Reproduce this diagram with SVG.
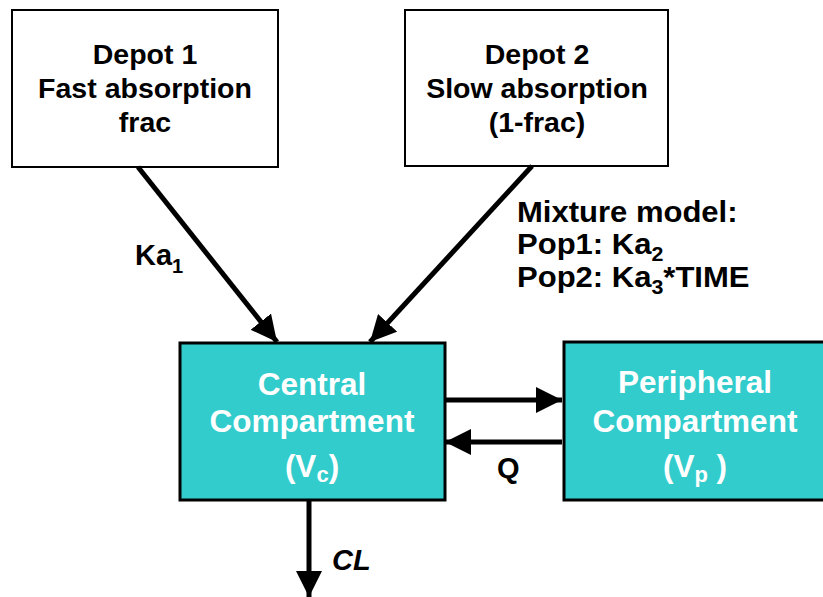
<svg xmlns="http://www.w3.org/2000/svg" width="823" height="597" viewBox="0 0 823 597">
<style>
text{font-family:"Liberation Sans",Arial,sans-serif;font-weight:bold;}
.dep{fill:#fff;stroke:#000;stroke-width:2;}
.cmp{fill:#33CCCC;stroke:#000;stroke-width:3;}
.blk{fill:#000;font-size:28.5px;}
.wht{fill:#fff;font-size:31.5px;}
.lbl{fill:#000;font-size:29px;}
.con{stroke:#000;stroke-width:5;fill:none;}
</style>
<defs>
<marker id="ah" viewBox="0 0 10 10" refX="10" refY="5" markerWidth="5.2" markerHeight="5.2" orient="auto" markerUnits="strokeWidth">
<path d="M0,0 L10,5 L0,10 z" fill="#000"/>
</marker>
</defs>
<rect width="823" height="597" fill="#fff"/>
<g id="depot1">
<rect class="dep" x="12" y="10" width="266" height="157"/>
<text class="blk" text-anchor="middle" x="145" y="64">Depot 1</text>
<text class="blk" text-anchor="middle" x="145" y="98">Fast absorption</text>
<text class="blk" text-anchor="middle" x="145" y="132">frac</text>
</g>
<g id="depot2">
<rect class="dep" x="405" y="10" width="263" height="156"/>
<text class="blk" text-anchor="middle" x="537" y="64">Depot 2</text>
<text class="blk" text-anchor="middle" x="537" y="98">Slow absorption</text>
<text class="blk" text-anchor="middle" x="537" y="132">(1-frac)</text>
</g>
<g id="central">
<rect class="cmp" x="180" y="343" width="265" height="157"/>
<text class="wht" text-anchor="middle" x="312" y="395">Central</text>
<text class="wht" text-anchor="middle" x="312" y="432">Compartment</text>
<text class="wht" text-anchor="middle" x="312" y="477">(V<tspan font-size="22" dy="5">c</tspan><tspan dy="-5">)</tspan></text>
</g>
<g id="peripheral">
<rect class="cmp" x="564" y="342" width="262" height="158"/>
<text class="wht" text-anchor="middle" x="695" y="393">Peripheral</text>
<text class="wht" text-anchor="middle" x="695" y="432">Compartment</text>
<text class="wht" text-anchor="middle" x="695" y="477">(V<tspan font-size="22" dy="5">p</tspan><tspan dy="-5"> )</tspan></text>
</g>
<g id="connectors">
<line class="con" x1="138" y1="167" x2="277" y2="342" marker-end="url(#ah)"/>
<line class="con" x1="532" y1="166" x2="370" y2="342" marker-end="url(#ah)"/>
<line class="con" x1="445" y1="400" x2="562" y2="400" marker-end="url(#ah)"/>
<line class="con" x1="562" y1="442" x2="445" y2="442" marker-end="url(#ah)"/>
<line class="con" x1="309" y1="500" x2="309" y2="597" marker-end="url(#ah)"/>
</g>
<g id="labels">
<text class="lbl" x="135" y="265">Ka<tspan font-size="20" dy="8">1</tspan></text>
<g transform="translate(517,0) scale(1.07,1)">
<text class="lbl" x="0" y="222">Mixture model:</text>
<text class="lbl" x="0" y="254">Pop1: Ka<tspan font-size="20" dy="7">2</tspan></text>
<text class="lbl" x="0" y="287">Pop2: Ka<tspan font-size="20" dy="7">3</tspan><tspan dy="-7">*TIME</tspan></text>
</g>
<text class="lbl" x="497" y="478">Q</text>
<text class="lbl" x="332" y="570" font-style="italic">CL</text>
</g>
</svg>
